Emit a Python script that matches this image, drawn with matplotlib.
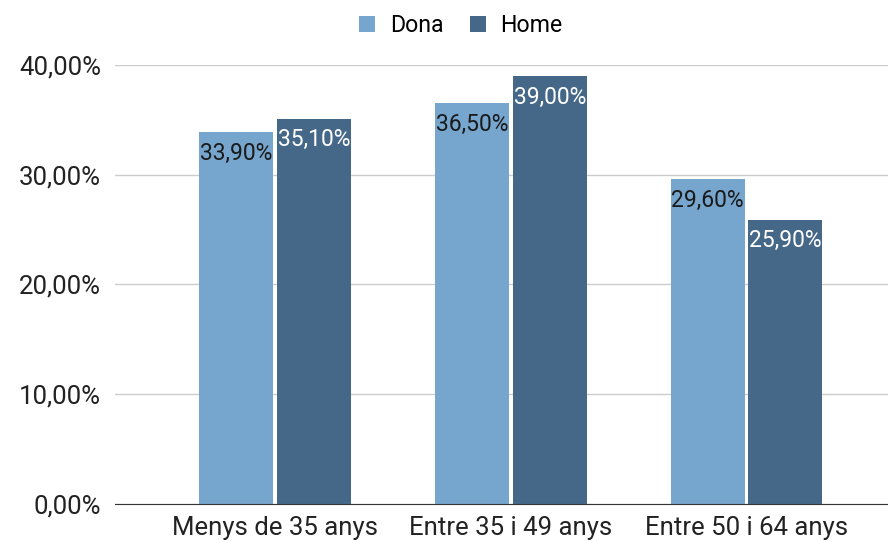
import numpy as np
import matplotlib.pyplot as plt

plt.rcParams['font.family'] = ['Roboto', 'DejaVu Sans']

categories = ['Menys de 35 anys', 'Entre 35 i 49 anys', 'Entre 50 i 64 anys']
dona = [33.9, 36.5, 29.6]
home = [35.1, 39.0, 25.9]
yticks = [0, 10, 20, 30, 40]

c_dona = '#76a5cd'
c_home = '#466888'

fig = plt.figure(figsize=(8.88, 5.41), dpi=100)
ax = fig.add_axes([0.1295, 0.0684, 0.8705, 0.8116])

x = np.arange(len(categories))
w = 0.314
off = 0.165
b1 = ax.bar(x - off, dona, w, color=c_dona, label='Dona', zorder=3)
b2 = ax.bar(x + off, home, w, color=c_home, label='Home', zorder=3)

def fmt(v):
    return ('%.2f%%' % v).replace('.', ',')

for bars, vals, tc in [(b1, dona, '#1a1a1a'), (b2, home, 'white')]:
    for b, v in zip(bars, vals):
        ax.annotate(fmt(v), (b.get_x() + b.get_width() / 2, v), xytext=(0, -7),
                    textcoords='offset points', ha='center', va='top',
                    fontsize=16.5, color=tc, zorder=4)

ax.set_xlim(-0.68, 2.6)
ax.set_ylim(0, 40)
ax.set_yticks(yticks)
ax.set_yticklabels([fmt(t) for t in yticks], fontsize=18.5, color='#222222')
ax.set_xticks(x)
ax.set_xticklabels(categories, fontsize=18.5, color='#222222')
ax.tick_params(length=0, pad=10)
ax.tick_params(axis='x', pad=9)
ax.grid(axis='y', color='#cccccc', linewidth=1, zorder=0)
for s in ['top', 'right', 'left']:
    ax.spines[s].set_visible(False)
ax.spines['bottom'].set_color('#333333')
ax.spines['bottom'].set_zorder(5)

fig.legend(loc='upper center', bbox_to_anchor=(0.519, 1.012), ncol=2, frameon=False,
           fontsize=16.7, handlelength=0.68, handleheight=0.68, columnspacing=1.15,
           handletextpad=0.64)

fig.savefig('out.png', dpi=100)
